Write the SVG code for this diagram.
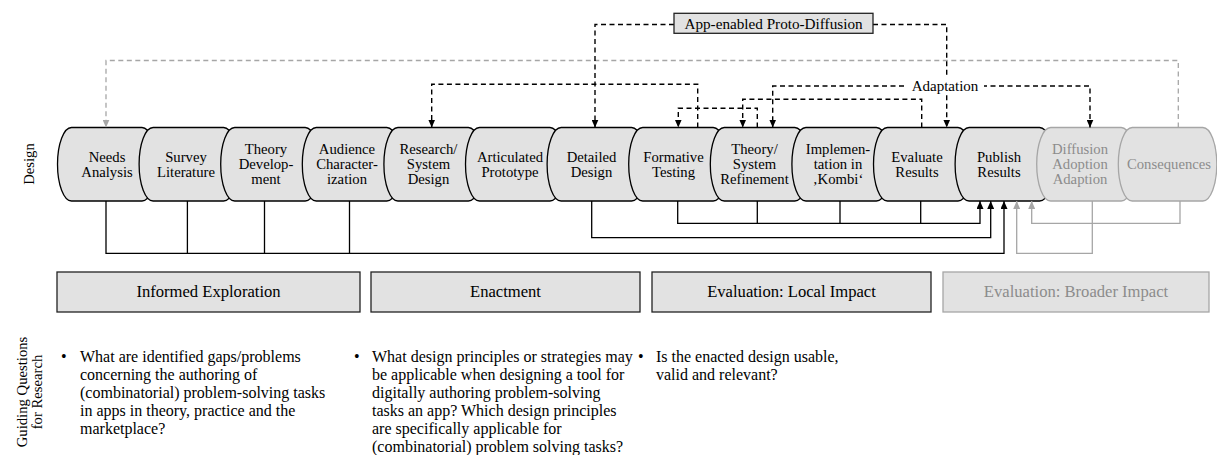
<svg xmlns="http://www.w3.org/2000/svg" width="1217" height="455" viewBox="0 0 1217 455" font-family="'Liberation Serif','Times New Roman',serif">
<style>
text{font-family:"Liberation Serif","Times New Roman",serif;fill:#000}
.nl{font-size:14.7px;text-anchor:middle}
.g text,.gt{fill:#8c8c8c}
.node{fill:#e2e2e2;stroke:#000;stroke-width:1.3}
.g .node{stroke:#a6a6a6}
.box{fill:#e2e2e2;stroke:#222;stroke-width:1.3}
.bx{font-size:16.6px;text-anchor:middle}
.q{font-size:16px}
.dk{fill:none;stroke:#000;stroke-width:1.4;stroke-dasharray:5 3.5}
.dg{fill:none;stroke:#a6a6a6;stroke-width:1.3;stroke-dasharray:5 3.5}
.sk{fill:none;stroke:#000;stroke-width:1.3}
.sg{fill:none;stroke:#a6a6a6;stroke-width:1.3}
</style>
<defs>
<marker id="ak" markerUnits="userSpaceOnUse" markerWidth="8" markerHeight="7" refX="8" refY="3.5" orient="auto"><path d="M0,0 L8,3.5 L0,7 Z" fill="#000"/></marker>
<marker id="ag" markerUnits="userSpaceOnUse" markerWidth="8" markerHeight="7" refX="8" refY="3.5" orient="auto"><path d="M0,0 L8,3.5 L0,7 Z" fill="#a6a6a6"/></marker>
</defs>
<rect width="1217" height="455" fill="#fff"/>
<text class="nl" transform="translate(34,164) rotate(-90)">Design</text>
<g id="n-needs"><path class="node" d="M71.5,127.5 H142 A14 36.75 0 0 1 142,201 H71.5 A14 36.75 0 0 1 71.5,127.5 Z"/><text class="nl" x="107" y="161.5">Needs</text><text class="nl" x="107" y="176.5">Analysis</text></g>
<g id="n-survey"><path class="node" d="M153.1,127.5 H223.6 A14 36.75 0 0 1 223.6,201 H153.1 A14 36.75 0 0 1 153.1,127.5 Z"/><text class="nl" x="186" y="161.5">Survey</text><text class="nl" x="186" y="176.5">Literature</text></g>
<g id="n-theory"><path class="node" d="M234.7,127.5 H305.2 A14 36.75 0 0 1 305.2,201 H234.7 A14 36.75 0 0 1 234.7,127.5 Z"/><text class="nl" x="266" y="154">Theory</text><text class="nl" x="266" y="169">Develop-</text><text class="nl" x="266" y="184">ment</text></g>
<g id="n-audience"><path class="node" d="M316.3,127.5 H386.8 A14 36.75 0 0 1 386.8,201 H316.3 A14 36.75 0 0 1 316.3,127.5 Z"/><text class="nl" x="347" y="154">Audience</text><text class="nl" x="347" y="169">Character-</text><text class="nl" x="347" y="184">ization</text></g>
<g id="n-research"><path class="node" d="M397.9,127.5 H468.4 A14 36.75 0 0 1 468.4,201 H397.9 A14 36.75 0 0 1 397.9,127.5 Z"/><text class="nl" x="428.5" y="154">Research/</text><text class="nl" x="428.5" y="169">System</text><text class="nl" x="428.5" y="184">Design</text></g>
<g id="n-articulated"><path class="node" d="M479.5,127.5 H550 A14 36.75 0 0 1 550,201 H479.5 A14 36.75 0 0 1 479.5,127.5 Z"/><text class="nl" x="510" y="161.5">Articulated</text><text class="nl" x="510" y="176.5">Prototype</text></g>
<g id="n-detailed"><path class="node" d="M561.1,127.5 H631.6 A14 36.75 0 0 1 631.6,201 H561.1 A14 36.75 0 0 1 561.1,127.5 Z"/><text class="nl" x="591.5" y="161.5">Detailed</text><text class="nl" x="591.5" y="176.5">Design</text></g>
<g id="n-formative"><path class="node" d="M642.7,127.5 H713.2 A14 36.75 0 0 1 713.2,201 H642.7 A14 36.75 0 0 1 642.7,127.5 Z"/><text class="nl" x="673.5" y="161.5">Formative</text><text class="nl" x="673.5" y="176.5">Testing</text></g>
<g id="n-refinement"><path class="node" d="M724.3,127.5 H794.8 A14 36.75 0 0 1 794.8,201 H724.3 A14 36.75 0 0 1 724.3,127.5 Z"/><text class="nl" x="754.5" y="154">Theory/</text><text class="nl" x="754.5" y="169">System</text><text class="nl" x="754.5" y="184">Refinement</text></g>
<g id="n-implementation"><path class="node" d="M805.9,127.5 H876.4 A14 36.75 0 0 1 876.4,201 H805.9 A14 36.75 0 0 1 805.9,127.5 Z"/><text class="nl" x="838" y="154">Implemen-</text><text class="nl" x="838" y="169">tation in</text><text class="nl" x="838" y="184">‚Kombi‘</text></g>
<g id="n-evaluate"><path class="node" d="M887.5,127.5 H958 A14 36.75 0 0 1 958,201 H887.5 A14 36.75 0 0 1 887.5,127.5 Z"/><text class="nl" x="917" y="161.5">Evaluate</text><text class="nl" x="917" y="176.5">Results</text></g>
<g id="n-publish"><path class="node" d="M969.1,127.5 H1039.6 A14 36.75 0 0 1 1039.6,201 H969.1 A14 36.75 0 0 1 969.1,127.5 Z"/><text class="nl" x="999" y="161.5">Publish</text><text class="nl" x="999" y="176.5">Results</text></g>
<g id="n-diffusion" class="g"><path class="node" d="M1050.7,127.5 H1121.2 A14 36.75 0 0 1 1121.2,201 H1050.7 A14 36.75 0 0 1 1050.7,127.5 Z"/><text class="nl" x="1080" y="154">Diffusion</text><text class="nl" x="1080" y="169">Adoption</text><text class="nl" x="1080" y="184">Adaption</text></g>
<g id="n-consequences" class="g"><path class="node" d="M1132.3,127.5 H1202.8 A14 36.75 0 0 1 1202.8,201 H1132.3 A14 36.75 0 0 1 1132.3,127.5 Z"/><text class="nl" x="1169" y="169">Consequences</text></g>
<g id="connectors">
<path class="dg" d="M1178.3,127.5 V60.5 H106 V127.5" marker-end="url(#ag)"/>
<path class="dk" d="M674,24.5 H595 V127.5" marker-end="url(#ak)"/>
<path class="dk" d="M873,24.5 H946.7 V127.5" marker-end="url(#ak)"/>
<path class="dk" d="M697.7,127.5 V84.3 H431.7 V127.5" marker-end="url(#ak)"/>
<path class="dk" d="M904,86 H772.7 V127.5" marker-end="url(#ak)"/>
<path class="dk" d="M982,86 H1090 V127.5" marker-end="url(#ak)"/>
<path class="dk" d="M921.7,127.5 V99.3 H742.7 V127.5" marker-end="url(#ak)"/>
<path class="dk" d="M757.3,127.5 V108.3 H678.3 V127.5" marker-end="url(#ak)"/>
<path class="sk" d="M106,201 V253.3 H1004 V201" marker-end="url(#ak)"/>
<path class="sk" d="M187.4,201 V253.3 M264.5,201 V253.3 M349.5,201 V253.3"/>
<path class="sk" d="M591.7,201 V237.7 H990.7 V201" marker-end="url(#ak)"/>
<path class="sk" d="M677.7,201 V223.3 H980 V201" marker-end="url(#ak)"/>
<path class="sk" d="M757.3,201 V223.3 M840,201 V223.3 M920.7,201 V223.3"/>
<path class="sg" d="M1092.3,201 V253.3 H1016.7 V201" marker-end="url(#ag)"/>
<path class="sg" d="M1180,201 V223.3 H1031.7 V201" marker-end="url(#ag)"/>
</g>
<g id="proto"><rect x="674" y="13.3" width="199" height="20" fill="#e2e2e2" stroke="#222" stroke-width="1.3"/><text x="773.5" y="28.5" font-size="15.2" text-anchor="middle">App-enabled Proto-Diffusion</text></g>
<g id="adaptation"><rect x="906" y="78" width="78" height="16" fill="#fff"/><text x="945" y="91" font-size="15" text-anchor="middle">Adaptation</text></g>
<g id="b-informed"><rect class="box" x="57" y="272" width="303" height="40"/><text class="bx" x="208.5" y="297">Informed Exploration</text></g>
<g id="b-enactment"><rect class="box" x="371" y="272" width="269" height="40"/><text class="bx" x="505.5" y="297">Enactment</text></g>
<g id="b-local"><rect class="box" x="652" y="272" width="279" height="40"/><text class="bx" x="791.5" y="297">Evaluation: Local Impact</text></g>
<g id="b-broader" class="g"><rect class="box" x="943" y="272" width="266" height="40" style="stroke:#a6a6a6"/><text class="bx" x="1076" y="297">Evaluation: Broader Impact</text></g>
<g id="guiding"><text class="nl" transform="translate(26.5,392) rotate(-90)">Guiding Questions</text><text class="nl" transform="translate(41.5,392) rotate(-90)">for Research</text></g>
<g id="q1" class="q"><text x="61" y="362">•</text><text x="80" y="362">What are identified gaps/problems</text><text x="80" y="380">concerning the authoring of</text><text x="80" y="398">(combinatorial) problem-solving tasks</text><text x="80" y="416">in apps in theory, practice and the</text><text x="80" y="434">marketplace?</text></g>
<g id="q2" class="q"><text x="354" y="362">•</text><text x="372" y="362">What design principles or strategies may</text><text x="372" y="380">be applicable when designing a tool for</text><text x="372" y="398">digitally authoring problem-solving</text><text x="372" y="416">tasks an app? Which design principles</text><text x="372" y="434">are specifically applicable for</text><text x="372" y="452">(combinatorial) problem solving tasks?</text></g>
<g id="q3" class="q"><text x="638" y="362">•</text><text x="656" y="362">Is the enacted design usable,</text><text x="656" y="380">valid and relevant?</text></g>
</svg>
